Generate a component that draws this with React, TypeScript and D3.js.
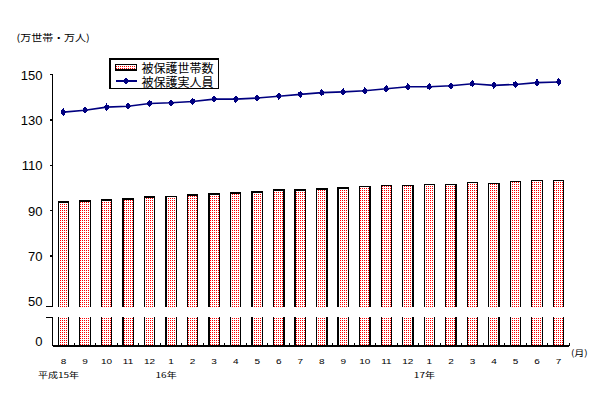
import React from "react";
import * as d3 from "d3";

const months = ["8","9","10","11","12","1","2","3","4","5","6","7","8","9","10","11","12","1","2","3","4","5","6","7"];
const households = [93.8, 94.2, 94.7, 95.1, 96.0, 96.4, 96.9, 97.3, 97.8, 98.2, 99.1, 99.1, 99.6, 100.0, 100.8, 101.2, 101.2, 101.6, 101.6, 102.5, 102.1, 103.0, 103.4, 103.4];
const persons = [133.5, 134.3, 135.7, 136.1, 137.3, 137.6, 138.2, 139.2, 139.2, 139.7, 140.5, 141.3, 142.1, 142.4, 142.9, 143.8, 144.7, 144.7, 145.1, 146.0, 145.3, 145.7, 146.5, 146.8];
const yTicks = [50, 70, 90, 110, 130, 150];
const yearLabels = [
  { index: 0, label: "平成15年" },
  { index: 5, label: "16年" },
  { index: 17, label: "17年" },
];
const seriesNames = ["被保護世帯数", "被保護実人員"];
const unitLabel = "(万世帯・万人)";
const monthUnit = "(月)";

const NUM_FONT = "'Liberation Sans', Arial, sans-serif";
const JP_FONT = "'Noto Sans CJK JP', sans-serif";

export default function App() {
  const axisX = 52.7;
  const axisRight = 569.3;
  const axisBottom = 346;
  const breakTop = 306.7;
  const breakBottom = 317.3;

  const x = d3
    .scaleBand<number>()
    .domain(d3.range(months.length))
    .range([axisX, axisRight])
    .paddingInner(0.52)
    .paddingOuter(0.26);
  const step = x.step();
  const center = (i: number) => (x(i) as number) + x.bandwidth() / 2;

  const y = d3.scaleLinear().domain([50, 150]).range([301.3, 74.7]);

  const line = d3
    .line<number>()
    .x((_, i) => center(i))
    .y((d) => y(d));

  const marker = (cx: number, cy: number, key: string | number) => (
    <g key={key}>
      <path
        d={`M${cx},${cy - 3.8} L${cx + 3},${cy} L${cx},${cy + 3.8} L${cx - 3},${cy} Z`}
        fill="#000080"
      />
      <rect x={cx - 2} y={cy - 2} width={4} height={4} fill="#000080" />
    </g>
  );

  const boundaries = d3.range(1, months.length);

  return (
    <svg
      width={601}
      height={399}
      style={{ position: "absolute", left: 0, top: 0, background: "#fff" }}
      shapeRendering="crispEdges"
    >
      <defs>
        <pattern id="dots" width={2} height={2} patternUnits="userSpaceOnUse">
          <rect width={2} height={2} fill="#fff" />
          <rect width={1} height={1} fill="#ff0000" />
        </pattern>
      </defs>

      {/* unit label */}
      <text
        transform="translate(16.5,37) scale(1,0.85)"
        fontFamily={JP_FONT}
        fontSize={11}
        dominantBaseline="central"
        fill="#000"
      >
        {unitLabel}
      </text>

      {/* bars */}
      {households.map((v, i) => (
        <rect
          key={i}
          x={x(i)}
          y={y(v)}
          width={x.bandwidth()}
          height={axisBottom - y(v)}
          fill="url(#dots)"
          stroke="#000"
          strokeWidth={1.3}
        />
      ))}

      {/* break gap */}
      <rect x={axisX + 0.7} y={breakTop + 0.6} width={axisRight - axisX} height={breakBottom - breakTop - 1.2} fill="#fff" />

      {/* y axis */}
      <line x1={axisX} x2={axisX} y1={y(150)} y2={breakTop} stroke="#000" strokeWidth={1.3} />
      <line x1={axisX} x2={axisX} y1={breakBottom} y2={axisBottom} stroke="#000" strokeWidth={1.3} />
      <line x1={46} x2={axisX} y1={breakTop} y2={breakTop} stroke="#000" strokeWidth={1.2} />
      <line x1={46} x2={axisX} y1={breakBottom} y2={breakBottom} stroke="#000" strokeWidth={1.2} />
      {yTicks.filter((t) => t !== 50).map((t) => (
        <line key={t} x1={50} x2={axisX} y1={y(t)} y2={y(t)} stroke="#000" strokeWidth={1.2} />
      ))}
      {yTicks.map((t) => (
        <text
          key={t}
          x={42.5}
          y={y(t) + 0.5}
          textAnchor="end"
          dominantBaseline="central"
          fontFamily={NUM_FONT}
          fontSize={13}
          fill="#000"
        >
          {t}
        </text>
      ))}
      <text x={42.5} y={341} textAnchor="end" dominantBaseline="central" fontFamily={NUM_FONT} fontSize={13} fill="#000">
        0
      </text>

      {/* x axis */}
      <line x1={axisX} x2={axisRight} y1={axisBottom} y2={axisBottom} stroke="#000" strokeWidth={1.3} />
      {boundaries.map((b) => (
        <line
          key={b}
          x1={axisX + b * step}
          x2={axisX + b * step}
          y1={axisBottom - 3}
          y2={axisBottom}
          stroke="#000"
          strokeWidth={1}
        />
      ))}
      <line x1={axisRight} x2={axisRight} y1={axisBottom - 3} y2={axisBottom} stroke="#000" strokeWidth={1} />
      {months.map((m, i) => (
        <text
          key={i}
          transform={`translate(${center(i)},361.7) scale(1,0.75)`}
          textAnchor="middle"
          dominantBaseline="central"
          fontFamily={NUM_FONT}
          fontSize={10}
          fill="#000"
        >
          {m}
        </text>
      ))}
      {yearLabels.map((yl) => (
        <text
          key={yl.index}
          transform={`translate(${center(yl.index) - 5},375) scale(1,0.75)`}
          textAnchor="middle"
          dominantBaseline="central"
          fontFamily={JP_FONT}
          fontSize={10}
          fill="#000"
        >
          {yl.label}
        </text>
      ))}
      <text
        transform="translate(571,352.7) scale(1,0.85)"
        dominantBaseline="central"
        fontFamily={JP_FONT}
        fontSize={10}
        fill="#000"
      >
        {monthUnit}
      </text>

      {/* line series */}
      <path d={line(persons) || ""} fill="none" stroke="#000080" strokeWidth={1.6} shapeRendering="auto" />
      {persons.map((v, i) => marker(center(i), y(v), i))}

      {/* legend */}
      <rect x={110} y={59} width={108.3} height={29.3} fill="#fff" stroke="#000" strokeWidth={1.2} />
      <rect x={115.5} y={64.3} width={21} height={5.7} fill="url(#dots)" stroke="#000" strokeWidth={1.2} />
      <text x={141.5} y={67} dominantBaseline="central" fontFamily={JP_FONT} fontSize={12} fill="#000">
        {seriesNames[0]}
      </text>
      <line x1={115.5} x2={136.5} y1={80.7} y2={80.7} stroke="#000080" strokeWidth={1.6} />
      {marker(126, 80.7, "legend")}
      <text x={141.5} y={81} dominantBaseline="central" fontFamily={JP_FONT} fontSize={12} fill="#000">
        {seriesNames[1]}
      </text>
    </svg>
  );
}
